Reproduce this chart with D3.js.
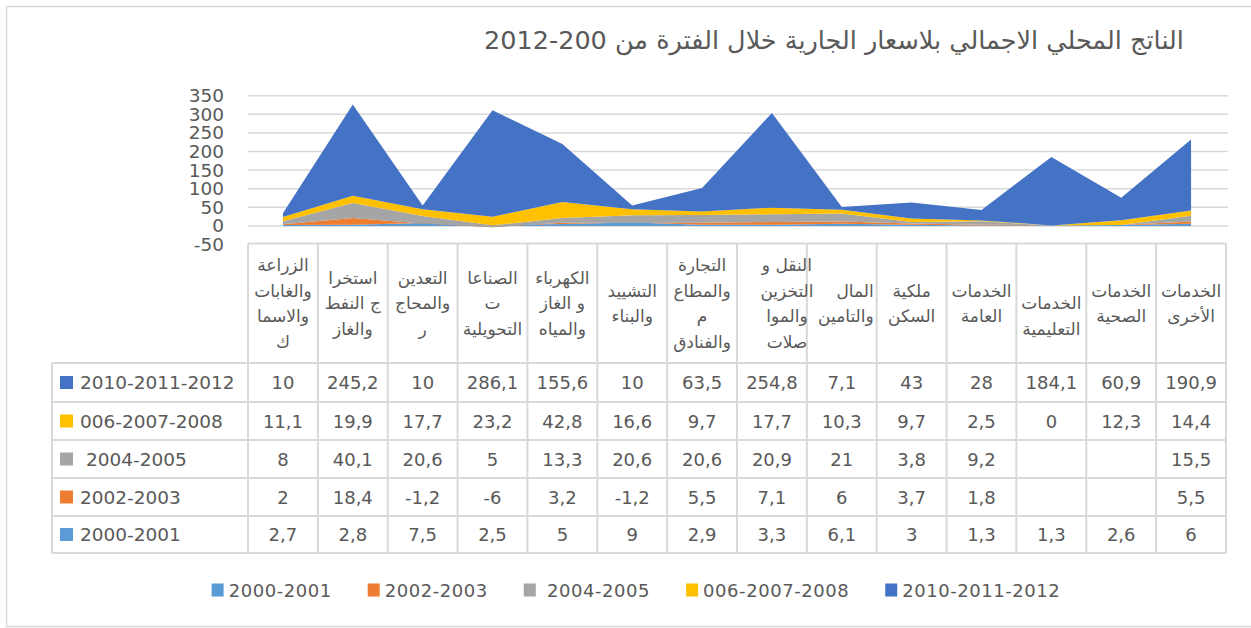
<!doctype html>
<html>
<head>
<meta charset="utf-8">
<title>الناتج المحلي الاجمالي</title>
<script src="https://cdnjs.cloudflare.com/ajax/libs/d3/7.8.5/d3.min.js"></script>
<style>
  body { margin: 0; background: #fff; }
  text { fill: #595959; }
</style>
</head>
<body>
<div id="chart"></div>
<script>
// category labels, one entry per column, already split into the lines shown in the table
var categories = [
  ["الزراعة", "والغابات", "والاسما", "ك"],
  ["استخرا", "ج النفط", "والغاز"],
  ["التعدين", "والمحاج", "ر"],
  ["الصناعا", "ت", "التحويلية"],
  ["الكهرباء", "و الغاز", "والمياه"],
  ["التشييد", "والبناء"],
  ["التجارة", "والمطاع", "م", "والفنادق"],
  ["النقل و", "التخزين", "والموا", "صلات"],
  ["المال", "والتامين"],
  ["ملكية", "السكن"],
  ["الخدمات", "العامة"],
  ["", "الخدمات", "التعليمية"],
  ["الخدمات", "الصحية"],
  ["الخدمات", "الأخرى"]
];

var seriesNames = ["2000-2001", "2002-2003", " 2004-2005", "006-2007-2008", "2010-2011-2012"];

var s2000 = [2.7, 2.8, 7.5, 2.5, 5, 9, 2.9, 3.3, 6.1, 3, 1.3, 1.3, 2.6, 6];
var s2002 = [2, 18.4, -1.2, -6, 3.2, -1.2, 5.5, 7.1, 6, 3.7, 1.8, null, null, 5.5];
var s2004 = [8, 40.1, 20.6, 5, 13.3, 20.6, 20.6, 20.9, 21, 3.8, 9.2, null, null, 15.5];
var s2006 = [11.1, 19.9, 17.7, 23.2, 42.8, 16.6, 9.7, 17.7, 10.3, 9.7, 2.5, 0, 12.3, 14.4];
var s2010 = [10, 245.2, 10, 286.1, 155.6, 10, 63.5, 254.8, 7.1, 43, 28, 184.1, 60.9, 190.9];

var yTicks = [-50, 0, 50, 100, 150, 200, 250, 300, 350];

var title = "الناتج المحلي الاجمالي بلاسعار الجارية خلال الفترة من 200-2012";

var seriesValues = [s2000, s2002, s2004, s2006, s2010];
var colors = ["#5B9BD5", "#ED7D31", "#A5A5A5", "#FFC000", "#4472C4"];
var grid = "#D9D9D9";

var width = 1251, height = 628;
var svg = d3.select("#chart").append("svg")
    .attr("width", width)
    .attr("height", height)
    .style("display", "block");

// chart frame
svg.append("rect")
    .attr("x", 6.5).attr("y", 6.5)
    .attr("width", 1270).attr("height", 620)
    .attr("fill", "none")
    .attr("stroke", grid)
    .attr("stroke-width", 1.5);

var left = 248, right = 1226;
var x = d3.scaleBand()
    .domain(d3.range(categories.length))
    .range([left, right]);
var bw = x.bandwidth();
var cx = function (i) { return x(i) + bw / 2; };

var y = d3.scaleLinear()
    .domain([-50, 350])
    .range([244.5, 95.7]);

// gridlines + y labels
svg.append("g").selectAll("line")
    .data(yTicks.filter(function (t) { return t > -50; }))
    .join("line")
    .attr("x1", left).attr("x2", right + 2)
    .attr("y1", function (d) { return y(d); })
    .attr("y2", function (d) { return y(d); })
    .attr("stroke", grid)
    .attr("stroke-width", 1.5);

svg.append("g").selectAll("text")
    .data(yTicks)
    .join("text")
    .attr("x", 224)
    .attr("y", function (d) { return y(d); })
    .attr("text-anchor", "end")
    .attr("dominant-baseline", "central")
    .style("font-family", "DejaVu Sans")
    .style("font-size", "18.5px")
    .text(function (d) { return d; });

// stacked areas
var rows = categories.map(function (c, i) {
  var r = { i: i };
  seriesNames.forEach(function (n, k) { r[k] = seriesValues[k][i]; });
  return r;
});

var stack = d3.stack()
    .keys(d3.range(seriesNames.length))
    .value(function (d, k) { return d[k] || 0; })
    .offset(d3.stackOffsetNone);

var area = d3.area()
    .x(function (d) { return cx(d.data.i); })
    .y0(function (d) { return y(d[0]); })
    .y1(function (d) { return y(d[1]); });

svg.append("g").selectAll("path")
    .data(stack(rows))
    .join("path")
    .attr("d", area)
    .attr("fill", function (d, k) { return colors[k]; });

// title
svg.append("text")
    .attr("x", 834)
    .attr("y", 40)
    .attr("text-anchor", "middle")
    .attr("dominant-baseline", "central")
    .attr("direction", "rtl")
    .style("font-family", "DejaVu Sans")
    .style("font-size", "25.5px")
    .text(title);

// data table
var headTop = 243.5, tableLeft = 52;
var rowLines = [363, 402, 440, 478, 516, 553];
var table = svg.append("g");

table.append("line")
    .attr("x1", left).attr("x2", right)
    .attr("y1", headTop).attr("y2", headTop)
    .attr("stroke", grid).attr("stroke-width", 2);

table.selectAll(".vl")
    .data(d3.range(categories.length + 1))
    .join("line")
    .attr("class", "vl")
    .attr("x1", function (i) { return left + i * bw; })
    .attr("x2", function (i) { return left + i * bw; })
    .attr("y1", headTop).attr("y2", rowLines[rowLines.length - 1])
    .attr("stroke", grid).attr("stroke-width", 2);

table.selectAll(".hl")
    .data(rowLines)
    .join("line")
    .attr("class", "hl")
    .attr("x1", tableLeft).attr("x2", right)
    .attr("y1", function (d) { return d; })
    .attr("y2", function (d) { return d; })
    .attr("stroke", grid).attr("stroke-width", 2);

table.append("line")
    .attr("x1", tableLeft).attr("x2", tableLeft)
    .attr("y1", rowLines[0]).attr("y2", rowLines[rowLines.length - 1])
    .attr("stroke", grid).attr("stroke-width", 2);

// header labels
var headMid = (headTop + rowLines[0]) / 2, lineH = 25.5;
categories.forEach(function (lines, i) {
  lines.forEach(function (t, j) {
    var tx = cx(i), anchor = "middle";
    if (i === 7) tx += 15;
    if (i === 8) { tx = x(i) + bw - 3; anchor = "end"; }
    table.append("text")
        .attr("x", tx)
        .attr("y", headMid + (j - (lines.length - 1) / 2) * lineH)
        .attr("text-anchor", anchor)
        .attr("dominant-baseline", "central")
        .style("font-family", "DejaVu Sans")
        .style("font-size", "17px")
        .text(t);
  });
});

// value rows, newest series on top
var fmt = function (v) { return v === null ? "" : String(v).replace(".", ","); };
d3.range(seriesNames.length).reverse().forEach(function (k, r) {
  var my = (rowLines[r] + rowLines[r + 1]) / 2;
  table.append("rect")
      .attr("x", 60).attr("y", my - 6.5)
      .attr("width", 13).attr("height", 13)
      .attr("fill", colors[k]);
  table.append("text")
      .attr("x", 80).attr("y", my)
      .attr("dominant-baseline", "central")
      .style("font-family", "DejaVu Sans")
      .style("font-size", "18.5px")
      .style("white-space", "pre")
      .text(seriesNames[k]);
  seriesValues[k].forEach(function (v, i) {
    table.append("text")
        .attr("x", cx(i)).attr("y", my)
        .attr("text-anchor", "middle")
        .attr("dominant-baseline", "central")
        .style("font-family", "DejaVu Sans")
        .style("font-size", "18px")
        .text(fmt(v));
  });
});

// bottom legend
var legend = svg.append("g");
var items = seriesNames.map(function (n, k) {
  var g = legend.append("g");
  g.append("rect")
      .attr("x", 0).attr("y", -6.5)
      .attr("width", 12).attr("height", 13)
      .attr("fill", colors[k]);
  var t = g.append("text")
      .attr("x", 17).attr("y", 0)
      .attr("dominant-baseline", "central")
      .style("font-family", "DejaVu Sans")
      .style("font-size", "18px")
      .style("letter-spacing", "0.55px")
      .style("white-space", "pre")
      .text(n);
  return { g: g, w: 17 + t.node().getComputedTextLength() };
});
var gap = 36;
var total = d3.sum(items, function (d) { return d.w; }) + gap * (items.length - 1);
var lx = 636 - total / 2;
items.forEach(function (it) {
  it.g.attr("transform", "translate(" + lx + ",590)");
  lx += it.w + gap;
});
</script>
</body>
</html>
